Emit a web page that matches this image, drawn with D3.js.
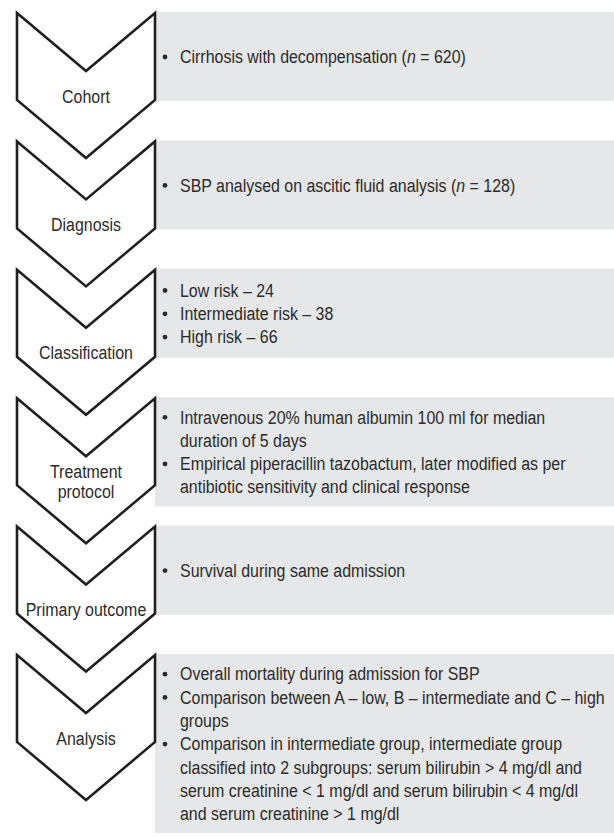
<!DOCTYPE html>
<html>
<head>
<meta charset="utf-8">
<script src="https://cdn.jsdelivr.net/npm/d3@7"></script>
<style>
  body { margin: 0; background: #fff; }
  svg text { font-family: "Liberation Sans", Arial, sans-serif; font-size: 19px; fill: #2b2b2b; }
</style>
</head>
<body>
<div id="chart"></div>
<script>
// 段階名（シェブロン内のラベル）
var stages = ["Cohort", "Diagnosis", "Classification", "Treatment protocol", "Primary outcome", "Analysis"];
var stageLabels = [["Cohort"], ["Diagnosis"], ["Classification"], ["Treatment", "protocol"], ["Primary outcome"], ["Analysis"]];

// 各段階の箇条書き（項目ごとに折り返し済みの行、*..* はイタリック）
var cohortItems = [["Cirrhosis with decompensation (*n* = 620)"]];
var diagnosisItems = [["SBP analysed on ascitic fluid analysis (*n* = 128)"]];
var classItems = [["Low risk \u2013 24"], ["Intermediate risk \u2013 38"], ["High risk \u2013 66"]];
var treatmentItems = [
    ["Intravenous 20% human albumin 100 ml for median", "duration of 5 days"],
    ["Empirical piperacillin tazobactum, later modified as per", "antibiotic sensitivity and clinical response"]
];
var outcomeItems = [["Survival during same admission"]];
var analysisItems = [
    ["Overall mortality during admission for SBP"],
    ["Comparison between A \u2013 low, B \u2013 intermediate and C \u2013 high", "groups"],
    ["Comparison in intermediate group, intermediate group",
     "classified into 2 subgroups: serum bilirubin > 4 mg/dl and",
     "serum creatinine < 1 mg/dl and serum bilirubin < 4 mg/dl",
     "and serum creatinine > 1 mg/dl"]
];
var stageItems = [cohortItems, diagnosisItems, classItems, treatmentItems, outcomeItems, analysisItems];

var width = 614, height = 836;
var lineH = 23.3;
var narrow = 0.84;   // 細字体の代わりに横方向を縮める

var svg = d3.select("#chart").append("svg")
    .attr("width", width)
    .attr("height", height);

// 段階ごとの縦位置
var y = d3.scaleBand()
    .domain(stages)
    .range([13, 13 + stages.length * 128.4]);

// シェブロンの横位置
var x = d3.scaleLinear().domain([0, 1]).range([17, 155]);
var notch = 58, side = 87, tip = 145;

var data = stages.map(function(s, i) {
    var lines = [];
    stageItems[i].forEach(function(item) {
        item.forEach(function(t, j) { lines.push({text: t, bullet: j === 0}); });
    });
    return {stage: s, label: stageLabels[i], lines: lines};
});

// 縮めたテキストを置く
function addText(parent, tx, ty, str, anchor) {
    var txt = parent.append("g")
        .attr("transform", "translate(" + tx + "," + ty + ") scale(" + narrow + ",1)")
        .append("text")
        .attr("dy", "0.35em")
        .attr("text-anchor", anchor || "start");
    str.split("*").forEach(function(part, k) {
        if (!part) return;
        txt.append("tspan")
            .style("font-style", k % 2 ? "italic" : null)
            .text(part);
    });
    return txt;
}

// 灰色のボックス
var boxH = function(d) { return Math.max(89, d.lines.length * lineH + 16); };
svg.append("g").selectAll("rect")
    .data(data)
    .enter()
    .append("rect")
    .attr("x", x(1))
    .attr("y", function(d) { return y(d.stage) - 1; })
    .attr("width", width - x(1))
    .attr("height", boxH)
    .attr("fill", "#e6e7e8");

// シェブロン
svg.append("g").selectAll("path")
    .data(data)
    .enter()
    .append("path")
    .attr("d", function(d) {
        var t = y(d.stage);
        return "M" + x(0) + "," + t +
            "L" + x(0.5) + "," + (t + notch) +
            "L" + x(1) + "," + t +
            "L" + x(1) + "," + (t + side) +
            "L" + x(0.5) + "," + (t + tip) +
            "L" + x(0) + "," + (t + side) + "Z";
    })
    .attr("fill", "#fff")
    .attr("stroke", "#231f20")
    .attr("stroke-width", 2.6)
    .attr("stroke-linejoin", "miter");

// シェブロンのラベル
var lg = svg.append("g");
data.forEach(function(d) {
    var c = y(d.stage) + 83 - (d.label.length - 1) * 10;
    d.label.forEach(function(t, i) {
        addText(lg, x(0.5), c + i * 20, t, "middle");
    });
});

// 箇条書きテキスト
var g = svg.append("g");
data.forEach(function(d) {
    var top = y(d.stage) - 1;
    var first = top + boxH(d) / 2 - (d.lines.length - 1) * lineH / 2;
    d.lines.forEach(function(l, i) {
        var ly = first + i * lineH;
        if (l.bullet) {
            g.append("circle")
                .attr("cx", 165)
                .attr("cy", ly + 0.5)
                .attr("r", 2.4)
                .attr("fill", "#2b2b2b");
        }
        addText(g, 180, ly, l.text);
    });
});
</script>
</body>
</html>
